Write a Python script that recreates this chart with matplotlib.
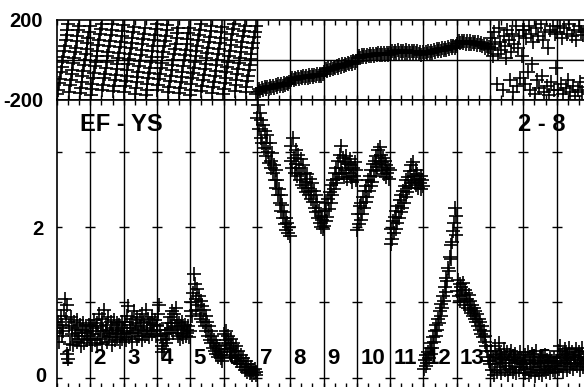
import numpy as np
import matplotlib
matplotlib.use("Agg")
import matplotlib.pyplot as plt

plt.rcParams['font.family'] = ['Liberation Sans', 'DejaVu Sans']
plt.rcParams['font.weight'] = 'bold'

# ---------------- data ----------------
days = list(range(1, 17))
day_labels = [str(d) for d in days]
ratio_ticks = [0, 2]
ratio_ticklabels = ["0", "2"]
phase_ticks = [-200, 200]
phase_ticklabels = ["-200", "200"]
baseline_text = "EF - YS"
band_text = "2 - 8"

# bottom panel: amplitude ratio, samples spread evenly over each day
amp_d01 = [0.60, 0.74, 0.48, 0.66, 0.82, 0.55, 0.70, 0.62, 0.90, 1.05, 0.78, 0.32, 0.96, 0.25,
           0.68, 0.45, 0.80, 0.58, 0.66, 0.44, 0.74, 0.56, 0.64, 0.48, 0.76, 0.60, 0.52,
           0.70, 0.42, 0.64, 0.56, 0.72, 0.46, 0.60, 0.68, 0.50, 0.62, 0.56, 0.70, 0.52]
amp_d02 = [0.52, 0.68, 0.44, 0.62, 0.76, 0.50, 0.66, 0.46, 0.72, 0.58, 0.84, 0.52, 0.68, 0.78,
           0.45, 0.62, 0.90, 0.56, 0.70, 0.48, 0.64, 0.80, 0.54, 0.60, 0.74, 0.44, 0.66,
           0.58, 0.76, 0.50, 0.64, 0.72, 0.54, 0.62, 0.70, 0.48, 0.60, 0.74, 0.52, 0.66]
amp_d03 = [0.58, 0.74, 0.50, 0.82, 0.62, 0.95, 0.54, 0.70, 0.60, 0.78, 0.48, 0.66, 0.88, 0.60,
           0.72, 0.52, 0.80, 0.64, 0.56, 0.76, 0.68, 0.50, 0.84, 0.62, 0.74, 0.56, 0.90,
           0.66, 0.58, 0.78, 0.54, 0.72, 0.64, 0.80, 0.58, 0.70, 0.62, 0.76, 0.56, 0.68]
amp_d04 = [0.70, 0.84, 0.96, 0.64, 0.55, 0.42, 0.34, 0.50, 0.38, 0.58, 0.46, 0.64, 0.52, 0.72,
           0.60, 0.80, 0.66, 0.88, 0.72, 0.60, 0.84, 0.68, 0.92, 0.64, 0.76, 0.56, 0.72,
           0.52, 0.68, 0.58, 0.74, 0.54, 0.66, 0.70, 0.56, 0.64, 0.60, 0.68, 0.54, 0.62]
amp_d05 = [0.88, 1.00, 0.82, 1.12, 1.38, 1.25, 1.05, 0.90, 1.18, 0.96, 1.08, 0.84, 1.02, 0.78,
           0.95, 0.74, 0.90, 0.68, 0.82, 0.62, 0.74, 0.56, 0.68, 0.50, 0.62, 0.46, 0.56,
           0.40, 0.50, 0.36, 0.46, 0.32, 0.42, 0.28, 0.38, 0.30, 0.26, 0.34, 0.22, 0.30]
amp_d06 = [0.58, 0.44, 0.62, 0.50, 0.38, 0.56, 0.46, 0.34, 0.52, 0.40, 0.28, 0.46, 0.36, 0.26,
           0.42, 0.30, 0.22, 0.36, 0.26, 0.18, 0.30, 0.22, 0.14, 0.26, 0.18, 0.10, 0.22,
           0.14, 0.08, 0.18, 0.10, 0.06, 0.14, 0.08, 0.04, 0.10, 0.06, 0.12, 0.04, 0.08]
amp_d07 = [3.45, 3.62, 3.30, 3.52, 3.18, 3.42, 3.12, 3.36, 3.05, 3.28, 3.12, 2.95, 3.22, 3.00,
           2.85, 3.12, 2.88, 2.78, 2.98, 2.72, 2.82, 2.62, 2.76, 2.52, 2.62, 2.42, 2.50,
           2.32, 2.42, 2.22, 2.30, 2.12, 2.20, 2.04, 2.12, 1.96, 2.05, 1.92, 2.00, 1.88]
amp_d08 = [2.88, 3.08, 2.78, 3.18, 2.92, 2.72, 3.02, 2.84, 2.68, 2.96, 2.78, 2.62, 2.90, 2.70,
           2.56, 2.82, 2.52, 2.72, 2.60, 2.46, 2.70, 2.52, 2.42, 2.64, 2.48, 2.38, 2.58,
           2.34, 2.48, 2.26, 2.42, 2.20, 2.34, 2.12, 2.22, 2.05, 2.15, 2.00, 2.10, 1.98]
amp_d09 = [2.02, 2.22, 2.08, 2.32, 2.14, 2.38, 2.24, 2.46, 2.32, 2.56, 2.42, 2.62, 2.50, 2.72,
           2.58, 2.78, 2.64, 2.88, 2.70, 2.96, 2.78, 3.08, 2.72, 2.92, 2.66, 2.86, 2.76,
           2.94, 2.64, 2.84, 2.72, 2.90, 2.66, 2.82, 2.60, 2.78, 2.68, 2.86, 2.62, 2.76]
amp_d10 = [1.96, 2.18, 2.04, 2.28, 2.10, 2.32, 2.18, 2.40, 2.26, 2.48, 2.34, 2.54, 2.40, 2.62,
           2.48, 2.68, 2.54, 2.76, 2.60, 2.84, 2.68, 2.88, 2.74, 2.95, 2.80, 3.02, 2.84,
           3.06, 2.86, 2.96, 2.76, 2.92, 2.70, 2.88, 2.66, 2.82, 2.72, 2.78, 2.64, 2.76]
amp_d11 = [1.78, 1.98, 1.84, 2.08, 1.92, 2.14, 1.98, 2.22, 2.06, 2.28, 2.12, 2.36, 2.20, 2.42,
           2.26, 2.48, 2.32, 2.54, 2.40, 2.62, 2.46, 2.66, 2.52, 2.74, 2.58, 2.82, 2.62,
           2.86, 2.68, 2.60, 2.76, 2.56, 2.70, 2.52, 2.64, 2.58, 2.68, 2.50, 2.62, 2.55]
amp_d12 = [0.12, 0.24, 0.16, 0.30, 0.20, 0.34, 0.26, 0.40, 0.32, 0.46, 0.40, 0.54, 0.48, 0.62,
           0.56, 0.70, 0.64, 0.78, 0.72, 0.88, 0.82, 0.98, 0.92, 1.08, 1.02, 1.20, 1.14,
           1.32, 1.28, 1.46, 1.42, 1.60, 1.58, 1.76, 1.80, 1.95, 2.05, 2.25, 2.15, 1.90]
amp_d13 = [1.15, 1.30, 1.08, 1.24, 1.02, 1.20, 1.10, 1.26, 1.00, 1.16, 0.96, 1.12, 1.04, 0.92,
           1.10, 0.90, 1.02, 0.86, 0.96, 0.82, 0.92, 0.78, 0.88, 0.74, 0.84, 0.68, 0.78,
           0.64, 0.74, 0.58, 0.68, 0.54, 0.62, 0.48, 0.56, 0.42, 0.36, 0.28, 0.22, 0.18]
amp_d14 = [0.22, 0.36, 0.10, 0.28, 0.04, 0.42, 0.18, 0.30, 0.08, 0.25, 0.46, 0.14, 0.32, 0.06,
           0.26, 0.20, 0.38, 0.10, 0.28, 0.16, 0.34, 0.04, 0.24, 0.30, 0.12, 0.36, 0.20,
           0.08, 0.28, 0.14, 0.32, 0.06, 0.22, 0.26, 0.10, 0.20, 0.34, 0.14, 0.24, 0.18]
amp_d15 = [0.18, 0.30, 0.06, 0.22, 0.12, 0.34, 0.04, 0.20, 0.28, 0.08, 0.32, 0.14, 0.24, 0.02,
           0.18, 0.36, 0.10, 0.22, 0.06, 0.28, 0.14, 0.20, 0.04, 0.26, 0.10, 0.30, 0.16,
           0.08, 0.24, 0.12, 0.20, 0.06, 0.28, 0.14, 0.22, 0.10, 0.26, 0.16, 0.08, 0.20]
amp_d16 = [0.22, 0.36, 0.12, 0.28, 0.42, 0.16, 0.30, 0.08, 0.26, 0.38, 0.18, 0.32, 0.10, 0.24,
           0.40, 0.14, 0.28, 0.20, 0.34, 0.12, 0.30, 0.18, 0.26, 0.38, 0.16, 0.24, 0.34,
           0.10, 0.28, 0.20, 0.40, 0.14, 0.26, 0.18, 0.32, 0.22, 0.36, 0.12, 0.28, 0.24]

# top panel: phase (deg)
ph_d01 = [-170, -150, -118, -96, -60, -38, -10, 14, 45, 66, 98, 124, 150, 176,
          -160, -128, -104, -70, -50, -18, 6, 38, 58, 92, 116, 146, 170,
          -165, -140, -112, -84, -58, -26, -4, 30, 52, 84, 110, 140, 166]
ph_d02 = [-176, -146, -122, -90, -66, -34, -12, 20, 42, 74, 98, 130, 152, 180,
          -150, -126, -94, -70, -40, -14, 16, 36, 70, 94, 124, 148, 176,
          -158, -130, -100, -78, -46, -20, 10, 34, 64, 90, 120, 144, 172]
ph_d03 = [-160, -134, -106, -80, -52, -24, 2, 28, 56, 84, 110, 138, 164,
          -170, -142, -114, -88, -60, -32, -6, 22, 48, 76, 104, 130, 158,
          -176, -150, -120, -94, -66, -40, -12, 14, 42, 70, 98, 124, 152, 178]
ph_d04 = [-152, -126, -96, -70, -44, -16, 12, 38, 66, 92, 120, 146, 172,
          -162, -136, -108, -80, -54, -28, 0, 26, 54, 80, 108, 134, 160,
          -168, -140, -114, -86, -60, -32, -4, 24, 50, 78, 104, 132, 158, -176]
ph_d05 = [-150, -122, -94, -68, -40, -12, 16, 42, 70, 96, 124, 150, 176,
          -158, -130, -104, -76, -48, -22, 6, 34, 60, 88, 114, 142, 168,
          -166, -138, -110, -84, -56, -28, 0, 28, 54, 82, 108, 136, 162, -172]
ph_d06 = [-146, -118, -92, -64, -36, -10, 18, 44, 72, 98, 126, 152, 178,
          -156, -128, -100, -74, -46, -18, 8, 36, 62, 90, 118, 144, 170,
          -164, -136, -108, -80, -52, -26, 2, 30, 58, 84, 112, 140, 166, -170]
ph_d07 = [-160, -148, -156, -143, -152, -139, -149, -136, -146, -133, -143, -130,
          -140, -127, -137, -124, -134, -121, -131, -118, -128, -115, -124, -110]
ph_d08 = [-104, -93, -101, -90, -99, -88, -96, -85, -94, -83, -92, -81,
          -90, -79, -88, -77, -86, -75, -84, -73, -82, -71, -80, -70]
ph_d09 = [-60, -48, -56, -44, -52, -40, -48, -36, -44, -32, -40, -28,
          -36, -24, -32, -20, -28, -16, -24, -12, -20, -8, -16, -5]
ph_d10 = [8, 19, 10, 21, 12, 23, 14, 25, 16, 27, 18, 28,
          19, 30, 21, 31, 22, 32, 23, 34, 24, 35, 25, 34]
ph_d11 = [30, 44, 34, 45, 33, 46, 34, 44, 32, 45, 33, 46,
          34, 45, 32, 44, 33, 45, 31, 43, 30, 40, 25, 36]
ph_d12 = [28, 40, 30, 42, 33, 45, 35, 48, 38, 51, 41, 54,
          44, 57, 47, 60, 50, 63, 53, 66, 56, 69, 58, 70]
ph_d13 = [80, 92, 82, 93, 81, 94, 80, 92, 79, 91, 78, 90,
          77, 89, 75, 86, 72, 82, 66, 76, 58, 68, 52, 62]
ph_d14 = [60, 110, 20, 140, 80, -120, 30, 160, 90, 50, -150, 120, 70, 10,
          150, 100, -100, 40, 130, -160, 80, 170, -130, 60, 120, -90, 20, 150]
ph_d15 = [150, -120, 110, -60, 170, -150, 130, -20, 90, -170, 160, -100, 120, -140,
          180, -80, 100, -160, 140, -130, 60, -175, 150, -110, 170, -150, 130, -40]
ph_d16 = [140, -150, 170, -120, 110, -170, 160, -140, 130, -100, 180, -160, 120, -130,
          150, -180, 100, -150, 170, -110, 140, -160, 125, -135, 160, -90, 150, -170]

amp_days = [amp_d01, amp_d02, amp_d03, amp_d04, amp_d05, amp_d06, amp_d07, amp_d08,
            amp_d09, amp_d10, amp_d11, amp_d12, amp_d13, amp_d14, amp_d15, amp_d16]
ph_days = [ph_d01, ph_d02, ph_d03, ph_d04, ph_d05, ph_d06, ph_d07, ph_d08,
           ph_d09, ph_d10, ph_d11, ph_d12, ph_d13, ph_d14, ph_d15, ph_d16]


def day_times(d, vals):
    n = len(vals)
    return d + (np.arange(n) + 0.5) / n


t_amp = np.concatenate([day_times(d, v) for d, v in zip(days, amp_days)])
v_amp = np.concatenate([np.asarray(v, float) for v in amp_days])
t_ph = np.concatenate([day_times(d, v) for d, v in zip(days, ph_days)])
v_ph = np.concatenate([np.asarray(v, float) for v in ph_days])

# ---------------- figure ----------------
W, H = 584, 387
fig = plt.figure(figsize=(W / 100, H / 100), dpi=100)

left_px, right_px = 57, 590
def fx(px):
    return px / W
def fy(py):
    return 1 - py / H

ax_top = fig.add_axes([fx(left_px), fy(99.5), fx(right_px - left_px), (99.5 - 19.5) / H])
ax_bot = fig.add_axes([fx(left_px), fy(388), fx(right_px - left_px), (388 - 99.5) / H])

xmin, xmax = 1, 17
mk = dict(marker='+', linestyle='none', color='black', markersize=9.5, markeredgewidth=1.2, zorder=3)

for ax in (ax_top, ax_bot):
    ax.set_xlim(xmin, xmax)
    for d in days[1:] + [17]:
        ax.axvline(d, color='black', lw=1.0, zorder=1)
    ax.set_xticks(np.arange(xmin, xmax + 0.001, 1 / 3))
    ax.tick_params(axis='x', which='both', direction='in', length=3.5, width=1.0,
                   top=True, bottom=True, labelbottom=False, labeltop=False)
    ax.tick_params(axis='y', which='both', length=0, pad=10)
    for s in ax.spines.values():
        s.set_linewidth(1.2)

# top panel
ax_top.set_ylim(-200, 200)
ax_top.axhline(0, color='black', lw=1.0, zorder=1)
ax_top.plot(t_ph, v_ph, **mk)
ax_top.set_yticks(phase_ticks)
ax_top.set_yticklabels(phase_ticklabels, fontweight='bold', fontsize=14.5)

# bottom panel
ax_bot.set_ylim(-0.137, 3.695)
ax_bot.set_yticks(ratio_ticks)
ax_bot.set_yticklabels([""] + ratio_ticklabels[1:], fontweight='bold', fontsize=14.5)
# the "0" label sits right at the lower figure edge; nudge it up slightly
ax_bot.annotate(ratio_ticklabels[0], xy=(0, ratio_ticks[0]),
                xycoords=('axes fraction', 'data'), xytext=(-7.5, 1.2),
                textcoords='offset points', ha='right', va='center',
                fontsize=14.5, fontweight='bold', annotation_clip=False)
for yv in [0, 1, 2, 3]:
    ax_bot.plot(np.arange(xmin, xmax + 1), np.full(xmax - xmin + 1, yv), marker='_',
                linestyle='none', color='black', markersize=7.5, markeredgewidth=1.0, zorder=2)
for d, lab in zip(days, day_labels):
    ax_bot.text(d + 0.1, 0.26, lab, ha='left', va='center', fontsize=16,
                fontweight='bold', zorder=2)
ax_bot.plot(t_amp, v_amp, **mk)
ax_bot.text(1.69, 3.36, baseline_text, ha='left', va='center', fontsize=17, fontweight='bold')
ax_bot.text(14.84, 3.36, band_text, ha='left', va='center', fontsize=17, fontweight='bold')

fig.savefig("out.png", dpi=100)
